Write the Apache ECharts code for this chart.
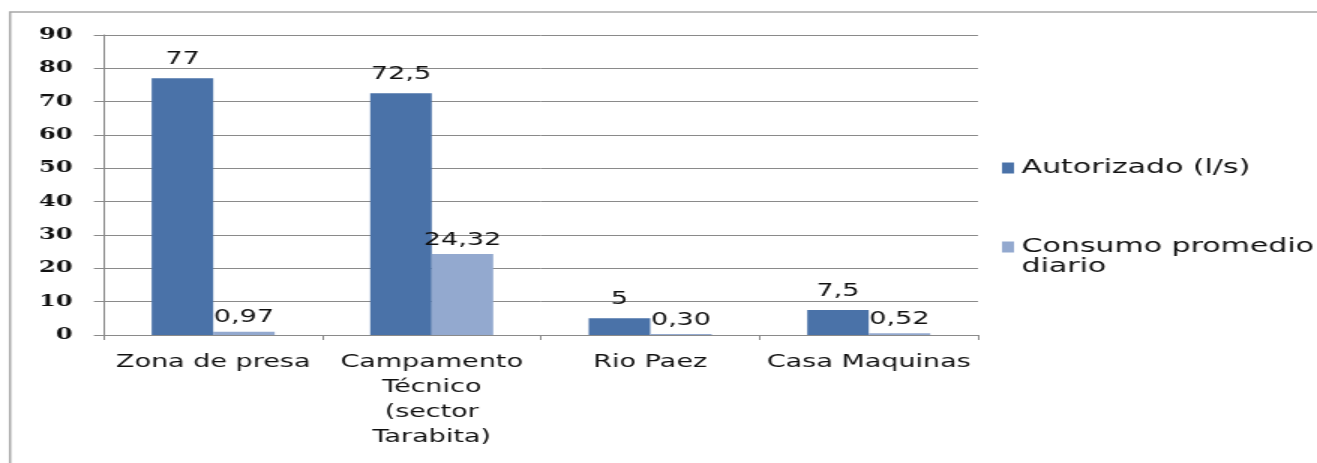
<!DOCTYPE html>
<html>
<head>
<meta charset="utf-8">
<script src="https://cdn.jsdelivr.net/npm/echarts@6/dist/echarts.min.js"></script>
<style>
  html, body { margin: 0; padding: 0; background: #fff; overflow: hidden; }
  /* the reference is stretched sideways, so draw narrower and scale x */
  #chart { width: 878px; height: 463px; transform: scaleX(1.5); transform-origin: 0 0; }
</style>
</head>
<body>
<div id="chart"></div>
<script>
const categories = ['Zona de presa', 'Campamento\nTécnico\n(sector\nTarabita)', 'Rio Paez', 'Casa Maquinas']
const autorizado = [77, 72.5, 5, 7.5]
const consumo = [0.97, 24.32, 0.30, 0.52]
const consumoLabels = ['0,97', '24,32', '0,30', '0,52']
const yTicks = [0, 10, 20, 30, 40, 50, 60, 70, 80, 90]

const serie1 = 'Autorizado (l/s)'
const serie2 = 'Consumo promedio\ndiario'

const chart = echarts.init(document.getElementById('chart'))

const labelFont = {
  fontFamily: 'DejaVu Sans',
  fontSize: 18,
  color: '#111',
  lineHeight: 20
}

const legendText = { fontFamily: 'DejaVu Sans', fontSize: 20, lineHeight: 20, color: '#111' }

chart.setOption({
  animation: false,
  backgroundColor: '#fff',
  graphic: [{
    type: 'rect',
    shape: { x: 6.7, y: 12, width: 1000, height: 600 },
    style: { fill: 'none', stroke: '#a6a6a6', lineWidth: 1.5 },
    z: -1
  }],
  legend: [{
    data: [serie1],
    orient: 'vertical',
    left: 668,
    top: 158,
    padding: 0,
    itemWidth: 8,
    itemHeight: 11,
    icon: 'rect',
    textStyle: legendText
  }, {
    data: [serie2],
    orient: 'vertical',
    left: 668,
    top: 217,
    padding: 0,
    itemWidth: 8,
    itemHeight: 11,
    icon: 'rect',
    // empty first line keeps the swatch level with the first text line
    formatter: (name) => '\n' + name,
    textStyle: legendText
  }],
  grid: {
    left: 69.3,
    right: 226,
    top: 35,
    bottom: 128
  },
  xAxis: {
    type: 'category',
    data: categories,
    axisLine: { lineStyle: { color: '#8a8a8a', width: 1 } },
    axisTick: { show: true, length: 5, lineStyle: { color: '#8a8a8a' } },
    axisLabel: {
      interval: 0,
      margin: 15,
      fontFamily: 'DejaVu Sans',
      fontSize: 18,
      lineHeight: 25,
      color: '#111'
    }
  },
  yAxis: {
    type: 'value',
    min: yTicks[0],
    max: yTicks[yTicks.length - 1],
    interval: 10,
    axisLine: { show: true, lineStyle: { color: '#8a8a8a', width: 1 } },
    axisTick: { show: true, length: 6.7, lineStyle: { color: '#8a8a8a' } },
    splitLine: { show: true, lineStyle: { color: '#8a8a8a', width: 1 } },
    axisLabel: {
      margin: 21,
      fontFamily: 'DejaVu Serif',
      fontWeight: 'bold',
      fontSize: 16,
      color: '#111'
    }
  },
  series: [{
    name: serie1,
    type: 'bar',
    data: autorizado,
    barWidth: 41,
    barGap: '0%',
    itemStyle: { color: '#4a72a8' },
    label: {
      show: true,
      position: 'top',
      distance: 9,
      ...labelFont,
      formatter: (p) => String(p.value).replace('.', ',')
    }
  }, {
    name: serie2,
    type: 'bar',
    data: consumo,
    barWidth: 41,
    barGap: '0%',
    itemStyle: { color: '#93a9cf' },
    label: {
      show: true,
      position: 'top',
      distance: 4,
      ...labelFont,
      formatter: (p) => consumoLabels[p.dataIndex]
    }
  }]
})
</script>
</body>
</html>
